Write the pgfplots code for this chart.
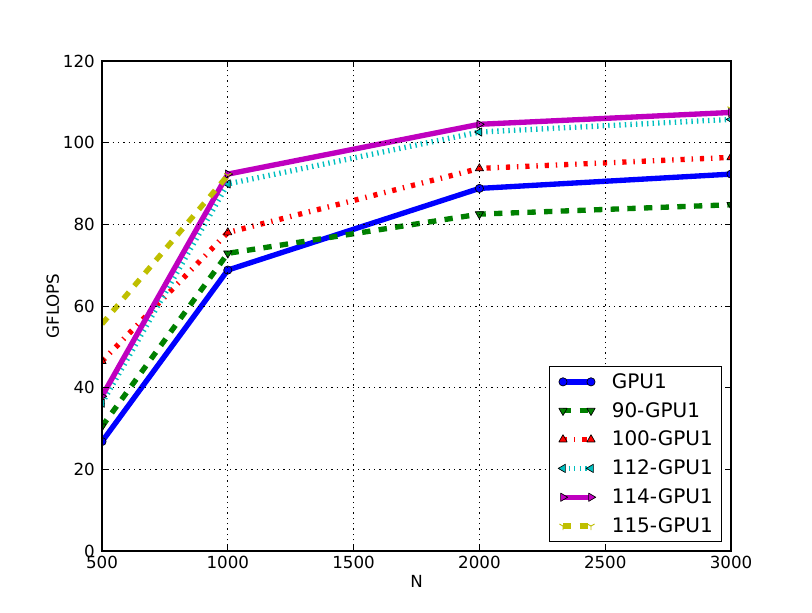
\documentclass[border=0pt]{standalone}
\usepackage{fontspec}
\setmainfont{DejaVu Sans}
\usepackage{pgfplots}
\pgfplotsset{compat=1.18}
\definecolor{mplb}{rgb}{0,0,1}
\definecolor{mplg}{rgb}{0,0.5,0}
\definecolor{mplr}{rgb}{1,0,0}
\definecolor{mplc}{rgb}{0,0.75,0.75}
\definecolor{mplm}{rgb}{0.75,0,0.75}
\definecolor{mply}{rgb}{0.75,0.75,0}
\begin{document}
\begin{tikzpicture}
\useasboundingbox (0,0) rectangle (609pt,459pt);
\begin{axis}[
  at={(76.5pt,45.75pt)}, anchor=south west,
  scale only axis, width=471.75pt, height=367.5pt,
  xmin=500, xmax=3000, ymin=0, ymax=120,
  xtick={500,1000,1500,2000,2500,3000},
  ytick={0,20,40,60,80,100,120},
  tick pos=both, tick align=inside, major tick length=4.2pt,
  tick style={black, line width=0.6pt},
  axis line style={black, line width=1pt},
  grid=major,
  major grid style={black, line width=0.5pt, dash pattern=on 1pt off 3pt},
  axis on top,
  clip marker paths=true,
  unbounded coords=jump,
  /pgf/number format/assume math mode=true,
  /pgf/number format/1000 sep={},
  ticklabel style={font=\fontsize{12.5}{15}\selectfont},
  xticklabel style={inner sep=0pt, yshift=-3.75pt},
  yticklabel style={inner sep=0pt, xshift=-5.25pt},
  xlabel={N}, ylabel={GFLOPS},
  label style={font=\fontsize{12.5}{15}\selectfont},
  xlabel style={at={(axis description cs:0.5,-0.049)}, anchor=north, inner sep=0pt},
  ylabel style={at={(axis description cs:-0.0678,0.5)}, anchor=south, inner sep=0pt},
  legend cell align=left,
  legend image code/.code={\draw[#1] plot coordinates {(0pt,0pt) (21pt,0pt)};},
  legend style={at={(axis description cs:0.9857,0.0184)}, anchor=south east,
    draw=black, line width=0.75pt, fill=white,
    font=\fontsize{15}{18}\selectfont,
    inner xsep=6.5pt, inner ysep=5.25pt,
    row sep=9pt, column sep=12pt,
    nodes={inner sep=0pt}},
]
\addplot[color=mplb, line width=4pt, line join=round, mark=*, mark size=3.1pt,
  mark options={solid, fill=mplb, draw=black, line width=0.5pt}]
  coordinates {(500,26.8) (1000,68.8) (2000,88.8) (3000,92.3)};
\addlegendentry{GPU1}
\addplot[color=mplg, line width=4pt, line join=round, dash pattern=on 6.25pt off 6.25pt,
  mark=triangle*, mark size=3.6pt,
  mark options={solid, rotate=180, fill=mplg, draw=black, line width=0.5pt}]
  coordinates {(500,30.5) (1000,72.9) (2000,82.5) (3000,84.8)};
\addlegendentry{90-GPU1}
\addplot[color=mplr, line width=4pt, line join=round,
  dash pattern=on 3.125pt off 5.2pt on 1.04pt off 5.2pt,
  mark=triangle*, mark size=3.6pt,
  mark options={solid, fill=mplr, draw=black, line width=0.5pt}]
  coordinates {(500,46.5) (1000,78.0) (2000,93.7) (3000,96.4)};
\addlegendentry{100-GPU1}
\addplot[color=mplc, line width=4pt, line join=round,
  dash pattern=on 1.04pt off 3.125pt,
  mark=triangle*, mark size=3.6pt,
  mark options={solid, rotate=90, fill=mplc, draw=black, line width=0.5pt}]
  coordinates {(500,36.2) (1000,89.9) (2000,102.6) (3000,105.7)};
\addlegendentry{112-GPU1}
\addplot[color=mplm, line width=4pt, line join=round,
  mark=triangle*, mark size=3.6pt,
  mark options={solid, rotate=-90, fill=mplm, draw=black, line width=0.5pt}]
  coordinates {(500,37.9) (1000,92.3) (2000,104.5) (3000,107.4)};
\addlegendentry{114-GPU1}
\addplot[color=mply, line width=4pt, line join=round, dash pattern=on 6.25pt off 6.25pt,
  mark=Mercedes star flipped, mark size=3.1pt,
  mark options={solid, draw=mply, line width=0.7pt}]
  coordinates {(500,55.6) (1000,92.0) (2000,nan) (3000,108.3)};
\addlegendentry{115-GPU1}
\end{axis}
\end{tikzpicture}
\end{document}
